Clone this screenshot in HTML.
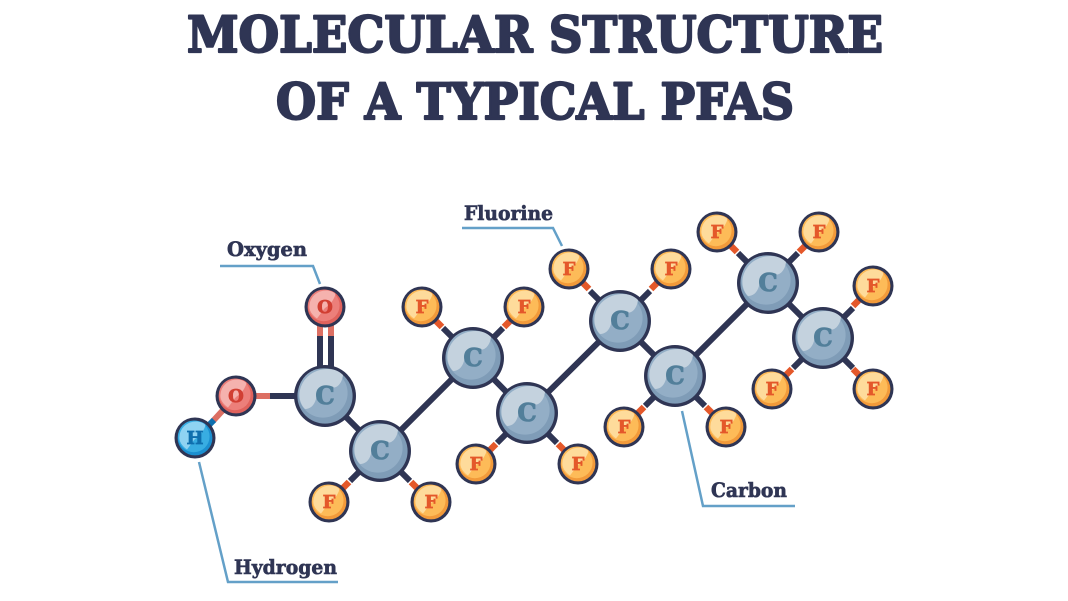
<!DOCTYPE html>
<html lang="en">
<head>
<meta charset="utf-8">
<title>Molecular structure of a typical PFAS</title>
<style>
html,body{margin:0;padding:0;background:#fff;width:1068px;height:601px;overflow:hidden}
svg{display:block}
text{font-family:"DejaVu Serif","Liberation Serif",serif;font-weight:bold}
.title{font-size:50px;fill:#2f3554;stroke:#2f3554;stroke-width:2.2px;stroke-linejoin:round}
.lab{font-size:19.5px;fill:#2f3554;stroke:#2f3554;stroke-width:.6px}
.ct{font-size:24px;fill:#527f9a;stroke:#527f9a;stroke-width:1px;text-anchor:middle}
.ft{font-size:18px;fill:#e4582a;stroke:#e4582a;stroke-width:.7px;text-anchor:middle}
.ot{font-size:18px;fill:#d13f33;stroke:#d13f33;stroke-width:.7px;text-anchor:middle}
.ht{font-size:18px;fill:#0f6fae;stroke:#0f6fae;stroke-width:.7px;text-anchor:middle}
.b{stroke:#2f3554;stroke-width:6;fill:none}
.f{stroke:#e4582a;stroke-width:6.5;fill:none}
.r{stroke:#dc6f63;stroke-width:6;fill:none}
.l{stroke:#64a0c8;stroke-width:2.5;fill:none}
</style>
</head>
<body>
<svg width="1068" height="601" viewBox="0 0 1068 601" xmlns="http://www.w3.org/2000/svg">
<defs>
<g id="cA">
<circle r="31" fill="#2f3554"/>
<circle r="27.6" fill="#7f9cb7"/>
<circle cx="-2" cy="-3" r="24.6" fill="#93aec6"/>
<path d="M-25.5-3C-24-17-12-27 3-27C9-27 14-25 18-21C17-12 11-6 4-9C-2-11-7-4-9 3C-11 10-15 13-20 13C-24 9-26 3-25.5-3Z" fill="#c4d2de"/>
</g>
<g id="fA">
<circle r="20.5" fill="#2f3554"/>
<circle r="17.4" fill="#f29a3a"/>
<circle cx="-1.2" cy="-1.6" r="15.8" fill="#fdbb58"/>
<path d="M-15.5-2C-14.5-11-7-16.5 1-16.5C5-16.5 8-15.5 10.5-13C9-7 5-2 0 1C-3 4-5 8-8 11.5C-13 8-16.5 3-15.5-2Z" fill="#fedb9b"/>
</g>
<g id="oA">
<circle r="20.5" fill="#2f3554"/>
<circle r="17.4" fill="#e0625c"/>
<circle cx="-1.2" cy="-1.6" r="15.8" fill="#ec7f7a"/>
<path d="M-15.5-2C-14.5-11-7-16.5 1-16.5C5-16.5 8-15.5 10.5-13C9-7 5-2 0 1C-3 4-5 8-8 11.5C-13 8-16.5 3-15.5-2Z" fill="#f5b2ae"/>
</g>
<g id="hA">
<circle r="20.5" fill="#2f3554"/>
<circle r="17.4" fill="#1b8fd0"/>
<circle cx="-1.2" cy="-1.6" r="15.8" fill="#38ade2"/>
<path d="M-15.5-2C-14.5-11-7-16.5 1-16.5C5-16.5 8-15.5 10.5-13C9-7 5-2 0 1C-3 4-5 8-8 11.5C-13 8-16.5 3-15.5-2Z" fill="#8fd3f2"/>
</g>
</defs>

<rect width="1068" height="601" fill="#fff"/>

<text class="title" x="187" y="52" textLength="696" lengthAdjust="spacingAndGlyphs">MOLECULAR STRUCTURE</text>
<text class="title" x="276" y="119" textLength="518" lengthAdjust="spacingAndGlyphs">OF A TYPICAL PFAS</text>

<!-- leader lines -->
<path class="l" d="M220 266H313L320 284"/>
<path class="l" d="M462 228H553L562 246"/>
<path class="l" d="M682 411L703 506H795"/>
<path class="l" d="M199 462L228 582H338"/>

<!-- carbon bonds -->
<path class="b" d="M325 396L380 451L473 358L527 413L620 321L675 376L768 283L823 338"/>
<path class="b" d="M320 335V372M331 335V372"/>
<path class="r" d="M320 322V336M331 322V336"/>
<path class="b" d="M269 396H300"/>
<path class="r" d="M250 396H270"/>
<path class="r" d="M236 396L213 421"/>
<path stroke="#0f6fae" stroke-width="6" fill="none" d="M214 420L207 427"/>

<!-- fluorine bonds -->
<path class="b" d="M380 451L350 481M380 451L410 481M473 358L443 328M473 358L503 328M527 413L497 443M527 413L557 443M620 321L590 291M620 321L650 291M675 376L645 406M675 376L705 406M768 283L738 253M768 283L798 253M823 338L853 308M823 338L793 368M823 338L853 368"/>
<path class="f" d="M329 502L349 482M431 502L411 482M422 307L442 327M524 307L504 327M476 464L496 444M578 464L558 444M569 269L589 289M671 269L651 289M624 427L644 407M726 427L706 407M717 232L737 252M819 232L799 252M873 286L853 306M772 389L792 369M873 389L853 369"/>

<!-- carbon atoms -->
<use href="#cA" x="325" y="396"/><text class="ct" x="325" y="404">C</text>
<use href="#cA" x="380" y="451"/><text class="ct" x="380" y="459">C</text>
<use href="#cA" x="473" y="358"/><text class="ct" x="473" y="366">C</text>
<use href="#cA" x="527" y="413"/><text class="ct" x="527" y="421">C</text>
<use href="#cA" x="620" y="321"/><text class="ct" x="620" y="329">C</text>
<use href="#cA" x="675" y="376"/><text class="ct" x="675" y="384">C</text>
<use href="#cA" x="768" y="283"/><text class="ct" x="768" y="291">C</text>
<use href="#cA" x="823" y="338"/><text class="ct" x="823" y="346">C</text>

<!-- fluorine atoms -->
<use href="#fA" x="329" y="502"/><text class="ft" x="329" y="508">F</text>
<use href="#fA" x="431" y="502"/><text class="ft" x="431" y="508">F</text>
<use href="#fA" x="422" y="307"/><text class="ft" x="422" y="313">F</text>
<use href="#fA" x="524" y="307"/><text class="ft" x="524" y="313">F</text>
<use href="#fA" x="476" y="464"/><text class="ft" x="476" y="470">F</text>
<use href="#fA" x="578" y="464"/><text class="ft" x="578" y="470">F</text>
<use href="#fA" x="569" y="269"/><text class="ft" x="569" y="275">F</text>
<use href="#fA" x="671" y="269"/><text class="ft" x="671" y="275">F</text>
<use href="#fA" x="624" y="427"/><text class="ft" x="624" y="433">F</text>
<use href="#fA" x="726" y="427"/><text class="ft" x="726" y="433">F</text>
<use href="#fA" x="717" y="232"/><text class="ft" x="717" y="238">F</text>
<use href="#fA" x="819" y="232"/><text class="ft" x="819" y="238">F</text>
<use href="#fA" x="873" y="286"/><text class="ft" x="873" y="292">F</text>
<use href="#fA" x="772" y="389"/><text class="ft" x="772" y="395">F</text>
<use href="#fA" x="873" y="389"/><text class="ft" x="873" y="395">F</text>

<!-- oxygen and hydrogen -->
<use href="#oA" x="325" y="307"/><text class="ot" x="325" y="313">O</text>
<use href="#oA" x="236" y="396"/><text class="ot" x="236" y="402">O</text>
<use href="#hA" x="195" y="438"/><text class="ht" x="195" y="444">H</text>

<!-- labels -->
<text class="lab" x="227" y="256" textLength="80" lengthAdjust="spacingAndGlyphs">Oxygen</text>
<text class="lab" x="464" y="220" textLength="89" lengthAdjust="spacingAndGlyphs">Fluorine</text>
<text class="lab" x="711" y="497" textLength="76" lengthAdjust="spacingAndGlyphs">Carbon</text>
<text class="lab" x="234" y="574" textLength="103" lengthAdjust="spacingAndGlyphs">Hydrogen</text>
</svg>
</body>
</html>
